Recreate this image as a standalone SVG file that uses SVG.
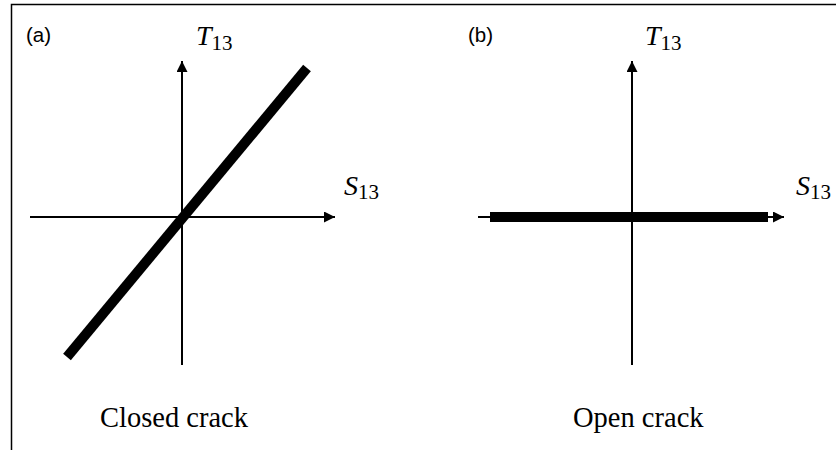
<svg xmlns="http://www.w3.org/2000/svg" width="836" height="450" viewBox="0 0 836 450">
  <style>
    .axis { stroke: #000; stroke-width: 2; fill: none; marker-end: url(#arr); }
    .thick { stroke: #000; stroke-width: 10; fill: none; }
    .frame { stroke: #000; stroke-width: 1.5; fill: none; }
    .tag { font-family: "Liberation Sans", Arial, sans-serif; font-size: 20.5px; fill: #000; }
    .sym { font-family: "Liberation Serif", "Times New Roman", serif; font-style: italic; font-size: 28px; fill: #000; }
    .sub { font-family: "Liberation Serif", "Times New Roman", serif; font-style: normal; font-size: 21px; }
    .cap { font-family: "Liberation Serif", "Times New Roman", serif; font-size: 28.5px; fill: #000; }
  </style>
  <defs>
    <marker id="arr" viewBox="0 0 10 10" refX="10" refY="5" markerWidth="11" markerHeight="11" markerUnits="userSpaceOnUse" orient="auto">
      <path d="M0,0 L10,5 L0,10 z" fill="#000"/>
    </marker>
  </defs>
  <rect width="836" height="450" fill="#fff"/>
  <path class="frame" d="M11.5,450 V4.5 H836"/>

  <g id="panel-a">
    <text class="tag" x="26" y="42">(a)</text>
    <g id="axes-a">
      <line class="axis" x1="182" y1="365" x2="182" y2="61"/>
      <line class="axis" x1="30" y1="217" x2="335" y2="217"/>
    </g>
    <line id="closed-line" class="thick" x1="67" y1="357" x2="307" y2="68"/>
    <text class="sym" x="196" y="45">T<tspan class="sub" dy="5">13</tspan></text>
    <text class="sym" x="344" y="195">S<tspan class="sub" dy="4">13</tspan></text>
    <text class="cap" x="100" y="427">Closed crack</text>
  </g>

  <g id="panel-b">
    <text class="tag" x="468" y="42">(b)</text>
    <g id="axes-b">
      <line class="axis" x1="632" y1="365" x2="632" y2="61"/>
      <line class="axis" x1="478" y1="217" x2="784" y2="217"/>
    </g>
    <line id="open-line" class="thick" x1="490" y1="217" x2="768" y2="217"/>
    <text class="sym" x="645" y="45">T<tspan class="sub" dy="5">13</tspan></text>
    <text class="sym" x="796" y="195">S<tspan class="sub" dy="4">13</tspan></text>
    <text class="cap" x="573" y="427">Open crack</text>
  </g>
</svg>
